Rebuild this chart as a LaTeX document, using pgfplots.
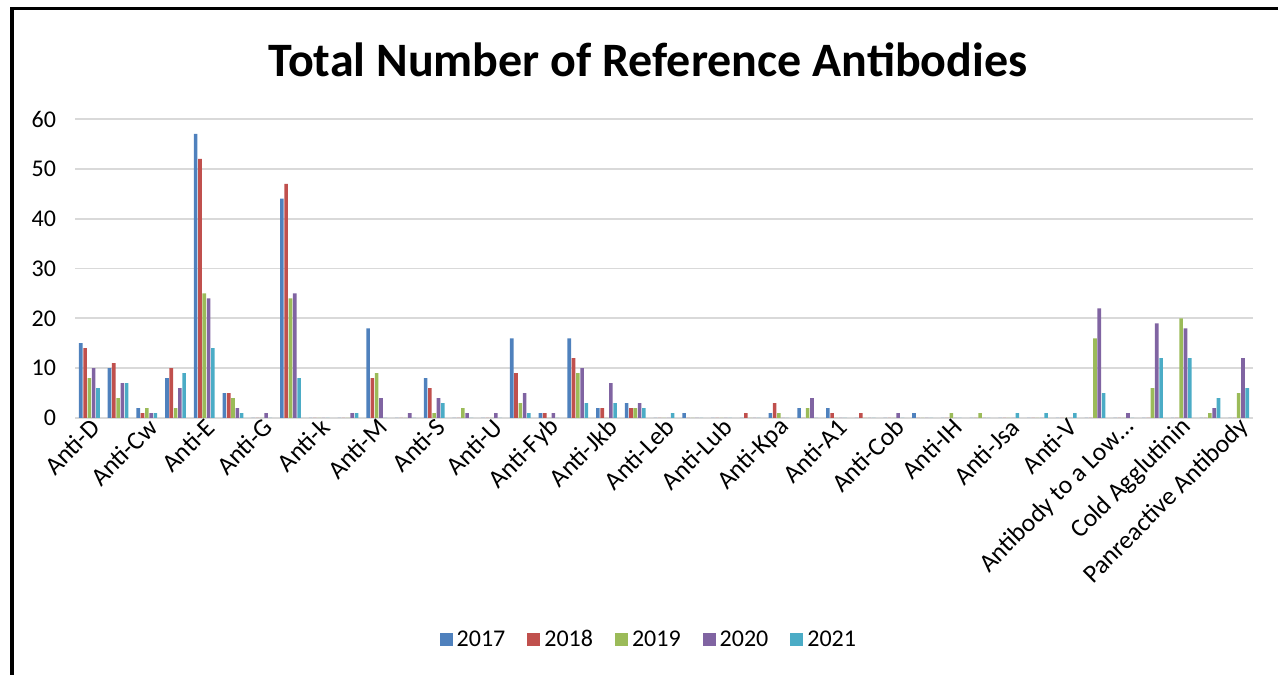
\documentclass[border=0pt]{standalone}
\usepackage{fontspec}
\setmainfont{Carlito}
\usepackage{pgfplots}
\usepackage{pgfplotstable}
\pgfplotsset{compat=1.18}
\definecolor{c17}{HTML}{4F81BD}
\definecolor{c18}{HTML}{C0504D}
\definecolor{c19}{HTML}{9BBB59}
\definecolor{c20}{HTML}{8064A2}
\definecolor{c21}{HTML}{4BACC6}
\definecolor{gridgray}{HTML}{D9D9D9}
\pgfplotstableread{
x a b c d e
1 15 14 8 10 6
2 10 11 4 7 7
3 2 1 2 1 1
4 8 10 2 6 9
5 57 52 25 24 14
6 5 5 4 2 1
7 0 0 0 1 0
8 44 47 24 25 8
9 0 0 0 0 0
10 0 0 0 1 1
11 18 8 9 4 0
12 0 0 0 1 0
13 8 6 1 4 3
14 0 0 2 1 0
15 0 0 0 1 0
16 16 9 3 5 1
17 1 1 0 1 0
18 16 12 9 10 3
19 2 2 0 7 3
20 3 2 2 3 2
21 0 0 0 0 1
22 1 0 0 0 0
23 0 0 0 0 0
24 0 1 0 0 0
25 1 3 1 0 0
26 2 0 2 4 0
27 2 1 0 0 0
28 0 1 0 0 0
29 0 0 0 1 0
30 1 0 0 0 0
31 0 0 1 0 0
32 0 0 1 0 0
33 0 0 0 0 1
34 0 0 0 0 1
35 0 0 0 0 1
36 0 0 16 22 5
37 0 0 0 1 0
38 0 0 6 19 12
39 0 0 20 18 12
40 0 0 1 2 4
41 0 0 5 12 6
}\datatable
\begin{document}
\begin{tikzpicture}[x=1pt,y=1pt]
\useasboundingbox (0,0) rectangle (639,337);
\draw[line width=1.7pt, line cap=rect] (6,0) -- (6,332.8) -- (639,332.8);
\node[font=\fontsize{24}{28}\selectfont\bfseries] at (324,307) {Total Number of Reference Antibodies};
\begin{axis}[
  at={(37.5pt,128pt)}, anchor=south west,
  scale only axis, width=589pt, height=149.5pt,
  xmin=0.5, xmax=41.5, ymin=0, ymax=60,
  ybar=0.35pt, bar width=1.8pt,
  axis line style={draw=none},
  ymajorgrids, grid style={gridgray, line width=0.9pt},
  major tick length=0pt,
  ytick={0,10,...,60},
  yticklabels={0,10,20,30,40,50,60},
  xtick={1,3,...,41},
  xticklabels={Anti-D,Anti-Cw,Anti-E,Anti-G,Anti-k,Anti-M,Anti-S,Anti-U,Anti-Fyb,Anti-Jkb,Anti-Leb,Anti-Lub,Anti-Kpa,Anti-A1,Anti-Cob,Anti-IH,Anti-Jsa,Anti-V,Antibody to a Low…,Cold Agglutinin,Panreactive Antibody},
  xticklabel style={rotate=45, anchor=east, font=\fontsize{12.8}{15}\selectfont, inner sep=1pt, yshift=-4pt, xshift=1.5pt},
  yticklabel style={font=\fontsize{12}{14}\selectfont, anchor=east, xshift=-6pt},
  /pgf/number format/assume math mode=true,
  legend columns=5,
  legend style={at={(0.488,-0.742)}, anchor=center, draw=none, fill=none,
    font=\fontsize{12}{14}\selectfont,
    /tikz/every even column/.append style={column sep=9pt}},
  legend image code/.code={\fill[#1] (0pt,-3.25pt) rectangle (6.5pt,3.25pt);},
]
\addplot[fill=c17, draw=none] table[x=x,y=a]{\datatable};
\addplot[fill=c18, draw=none] table[x=x,y=b]{\datatable};
\addplot[fill=c19, draw=none] table[x=x,y=c]{\datatable};
\addplot[fill=c20, draw=none] table[x=x,y=d]{\datatable};
\addplot[fill=c21, draw=none] table[x=x,y=e]{\datatable};
\legend{2017,2018,2019,2020,2021}
\end{axis}
\end{tikzpicture}
\end{document}
